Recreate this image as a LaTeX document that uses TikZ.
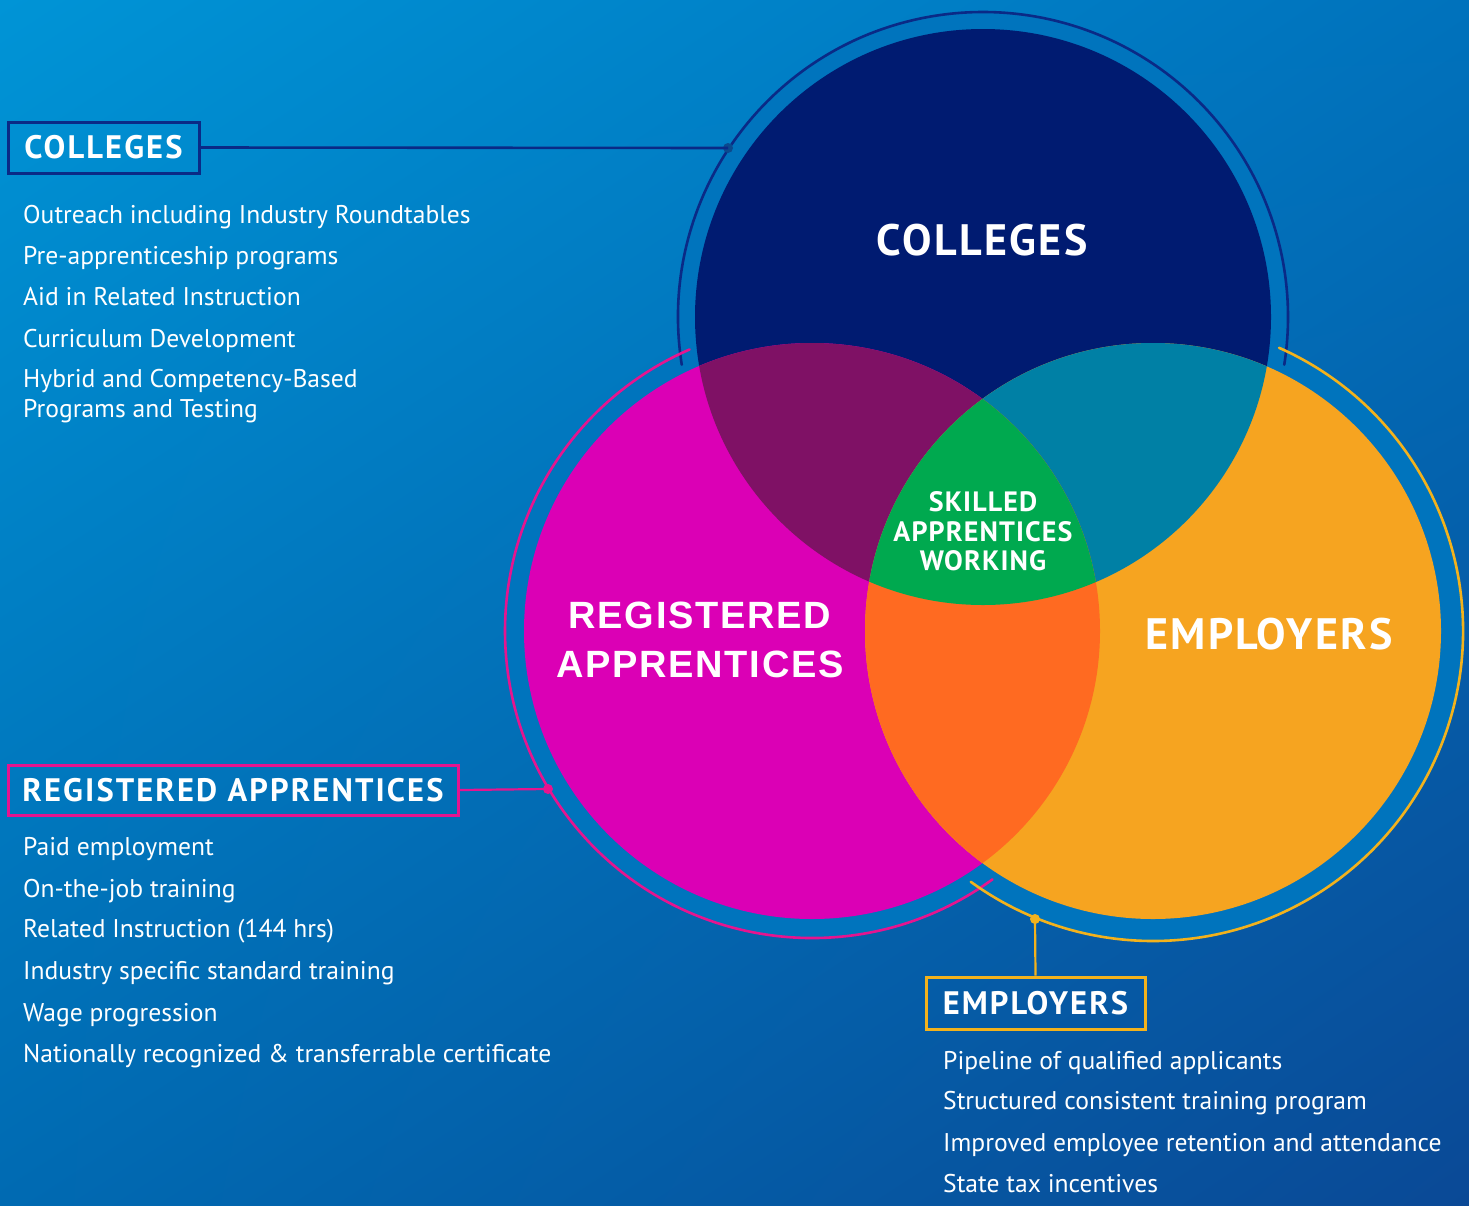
\documentclass[tikz,border=0pt]{standalone}
\usepackage{fontspec}
\setmainfont{PT Sans}
\newfontfamily\headfont[LetterSpace=6.5]{PT Sans}
\newfontfamily\circfont[LetterSpace=5.5]{PT Sans}
\newfontfamily\skillfont[LetterSpace=4]{PT Sans}
\newfontfamily\wideheadfont[LetterSpace=4.5]{Liberation Sans}
\usetikzlibrary{calc,shadings}
\definecolor{bgTL}{HTML}{0094D6}
\definecolor{bgTR}{HTML}{0072BC}
\definecolor{bgBL}{HTML}{006AB2}
\definecolor{bgBR}{HTML}{0A4996}
\definecolor{bandc}{HTML}{0074BD}
\definecolor{navyc}{HTML}{001B71}
\definecolor{magentac}{HTML}{DB00B5}
\definecolor{amberc}{HTML}{F6A420}
\definecolor{plumc}{HTML}{7F1165}
\definecolor{tealc}{HTML}{0080A5}
\definecolor{orangec}{HTML}{FF6A21}
\definecolor{greenc}{HTML}{00A94F}
\definecolor{navyline}{HTML}{0A2A86}
\definecolor{pinkline}{HTML}{E6148F}
\definecolor{yellowline}{HTML}{F3B21C}
\definecolor{navydot}{HTML}{0B4A8E}
\tikzset{
  item/.style={anchor=base west, inner sep=0pt, text=white, font=\fontsize{25.6}{30}\selectfont},
  headbox/.style={draw, line width=3pt, inner sep=0pt, text=white, font=\headfont\bfseries\fontsize{32.5}{36}\selectfont},
  circtitle/.style={inner sep=0pt, text=white, align=center},
  ringline/.style={line width=2.6pt, line cap=round},
  dotc/.style={circle, inner sep=0pt, minimum size=10pt},
}
\begin{document}
\begin{tikzpicture}[x=1pt,y=-1pt]
\useasboundingbox (0,0) rectangle (1469,1205);
\shade[upper left=bgTL, upper right=bgTR, lower left=bgBL, lower right=bgBR] (0,0) rectangle (1469,1205);
% centres
\coordinate (cc) at (983,317);
\coordinate (rc) at (812,631);
\coordinate (ec) at (1153,631);
% bands
\fill[bandc] (cc) circle[radius=305];
\fill[bandc] (rc) circle[radius=307];
\fill[bandc] (ec) circle[radius=310];
% circles
\fill[navyc] (cc) circle[radius=288];
\fill[magentac] (rc) circle[radius=288];
\fill[amberc] (ec) circle[radius=288];
\begin{scope}
  \clip (cc) circle[radius=288];
  \fill[plumc] (rc) circle[radius=288];
  \fill[tealc] (ec) circle[radius=288];
\end{scope}
\begin{scope}
  \clip (rc) circle[radius=288];
  \fill[orangec] (ec) circle[radius=288];
\end{scope}
\begin{scope}
  \clip (cc) circle[radius=288];
  \clip (rc) circle[radius=288];
  \fill[greenc] (ec) circle[radius=288];
\end{scope}
% ring lines
\draw[ringline, navyline] ($(cc)+(171:305)$) arc[start angle=171, end angle=369, radius=305];
\draw[ringline, pinkline] ($(rc)+(54:307)$) arc[start angle=54, end angle=246.5, radius=307];
\draw[ringline, yellowline] ($(ec)+(-66:310)$) arc[start angle=-66, end angle=126, radius=310];
% dots
\node[dotc, fill=navydot] (cdot) at (728,148) {};
\node[dotc, fill=pinkline] (rdot) at (548,789) {};
\node[dotc, fill=yellowline] (edot) at (1035,919) {};
% circle titles
\node[circtitle, font=\circfont\bfseries\fontsize{44}{50}\selectfont] (ctitle) at (982,240) {COLLEGES};
\node[circtitle, font=\wideheadfont\bfseries\fontsize{38}{49}\selectfont] (rtitle) at (700,640) {REGISTERED\\APPRENTICES};
\node[circtitle, font=\circfont\bfseries\fontsize{44}{50}\selectfont] (etitle) at (1269,634) {EMPLOYERS};
\node[circtitle, font=\skillfont\bfseries\fontsize{28}{29.5}\selectfont] (stitle) at (983,531.5) {SKILLED\\APPRENTICES\\WORKING};
% boxes
\node[headbox, draw=navyline, minimum width=191pt, minimum height=51pt] (cbox) at (103.5,147.5) {COLLEGES};
\node[headbox, draw=pinkline, minimum width=450pt, minimum height=50pt] (rbox) at (233,790) {REGISTERED APPRENTICES};
\node[headbox, draw=yellowline, minimum width=219pt, minimum height=52pt] (ebox) at (1035.5,1003) {EMPLOYERS};
% connectors
\draw[line width=2.6pt, navyline] (cbox.east) -- (cdot.center);
\draw[line width=2.2pt, pinkline] (rbox.east) -- (rdot.center);
\draw[line width=2.2pt, yellowline] (ebox.north) -- (edot.center);
% lists
\node[item] (c1) at (23,223) {Outreach including Industry Roundtables};
\node[item] (c2) at (23,264) {Pre-apprenticeship programs};
\node[item] (c3) at (23,305) {Aid in Related Instruction};
\node[item] (c4) at (23,347) {Curriculum Development};
\node[item] (c5) at (23,387) {Hybrid and Competency-Based};
\node[item] (c6) at (23,417) {Programs and Testing};
\node[item] (r1) at (23,855) {Paid employment};
\node[item] (r2) at (23,897) {On-the-job training};
\node[item] (r3) at (23,937) {Related Instruction (144 hrs)};
\node[item] (r4) at (23,979) {Industry specific standard training};
\node[item] (r5) at (23,1021) {Wage progression};
\node[item] (r6) at (23,1062) {Nationally recognized \& transferrable certificate};
\node[item] (e1) at (943,1069) {Pipeline of qualified applicants};
\node[item] (e2) at (943,1109) {Structured consistent training program};
\node[item] (e3) at (943,1151) {Improved employee retention and attendance};
\node[item] (e4) at (943,1192) {State tax incentives};
\end{tikzpicture}
\end{document}
